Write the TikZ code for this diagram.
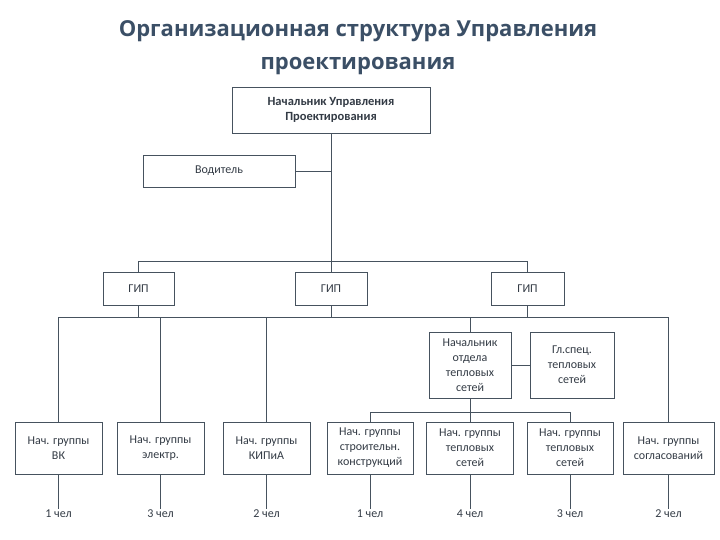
\documentclass[tikz,border=0pt]{standalone}
\usepackage{fontspec}
\setmainfont{Carlito}
\newfontfamily\titlefont{Open Sans}
\definecolor{linecol}{HTML}{46525E}
\definecolor{textcol}{HTML}{333B45}
\definecolor{titlecol}{HTML}{3B4F66}
\begin{document}
\begin{tikzpicture}[x=1pt,y=-1pt,line width=0.8pt,
  box/.style={draw=linecol,fill=white,text=textcol,align=center,inner sep=1pt,font=\fontsize{12}{15}\selectfont},
  count/.style={text=textcol,inner sep=1pt,font=\fontsize{12}{15}\selectfont}]
\useasboundingbox (0,0) rectangle (720,540);
\node[text=titlecol,align=center,font=\titlefont\bfseries\fontsize{22}{33}\selectfont] (title) at (358,48) {Организационная структура Управления\\проектирования};
\node[box,minimum width=198,minimum height=46,font=\bfseries\fontsize{12.5}{14.5}\selectfont] (chief) at (331,110) {Начальник Управления\\Проектирования};
\node[box,minimum width=152,minimum height=32] (driver) at (219,171) {Водитель};
\node[box,minimum width=71,minimum height=33] (gip1) at (138.5,288.5) {ГИП};
\node[box,minimum width=72,minimum height=33] (gip2) at (331,288.5) {ГИП};
\node[box,minimum width=73,minimum height=33] (gip3) at (527.5,288.5) {ГИП};
\node[box,minimum width=82,minimum height=66] (otd) at (470,365) {Начальник\\отдела\\тепловых\\сетей};
\node[box,minimum width=84,minimum height=66] (spec) at (572,365) {Гл.спец.\\тепловых\\сетей};
\node[box,minimum width=87,minimum height=52] (vk) at (58.5,448) {Нач. группы\\ВК};
\node[box,minimum width=87,minimum height=52] (el) at (160.5,448) {Нач. группы\\электр.};
\node[box,minimum width=87,minimum height=52] (kip) at (266.5,448) {Нач. группы\\КИПиА};
\node[box,minimum width=86,minimum height=52] (str) at (370,448) {Нач. группы\\строительн.\\конструкций};
\node[box,minimum width=87,minimum height=52] (tep) at (470,448) {Нач. группы\\тепловых\\сетей};
\node[box,minimum width=86,minimum height=52] (tep2) at (570,448) {Нач. группы\\тепловых\\сетей};
\node[box,minimum width=91,minimum height=52] (sogl) at (668.5,448) {Нач. группы\\согласований};
\coordinate (b1) at (0,261);
\coordinate (b2) at (0,317);
\coordinate (b3) at (0,412);
\draw[linecol] (chief.south) -- (gip2.north);
\draw[linecol] (driver.east) -- (driver.east -| chief.south);
\draw[linecol] (gip1.north) |- (gip3.north |- b1) -- (gip3.north);
\draw[linecol] (vk.north) |- (sogl.north |- b2) -- (sogl.north);
\foreach \n in {gip1,gip2,gip3}
  \draw[linecol] (\n.south) -- (\n.south |- b2);
\foreach \n in {el,kip,otd}
  \draw[linecol] (\n.north) -- (\n.north |- b2);
\draw[linecol] (otd.east) -- (spec.west);
\draw[linecol] (otd.south) -- (tep.north);
\draw[linecol] (str.north) |- (tep2.north |- b3) -- (tep2.north);
% people per group
\foreach \n/\k in {vk/1,el/3,kip/2,str/1,tep/4,tep2/3,sogl/2} {
  \node[count] (\n c) at (\n.south |- 0,514) {\k\ чел};
  \draw[linecol] (\n.south) -- (\n c.north);
}
\end{tikzpicture}
\end{document}
